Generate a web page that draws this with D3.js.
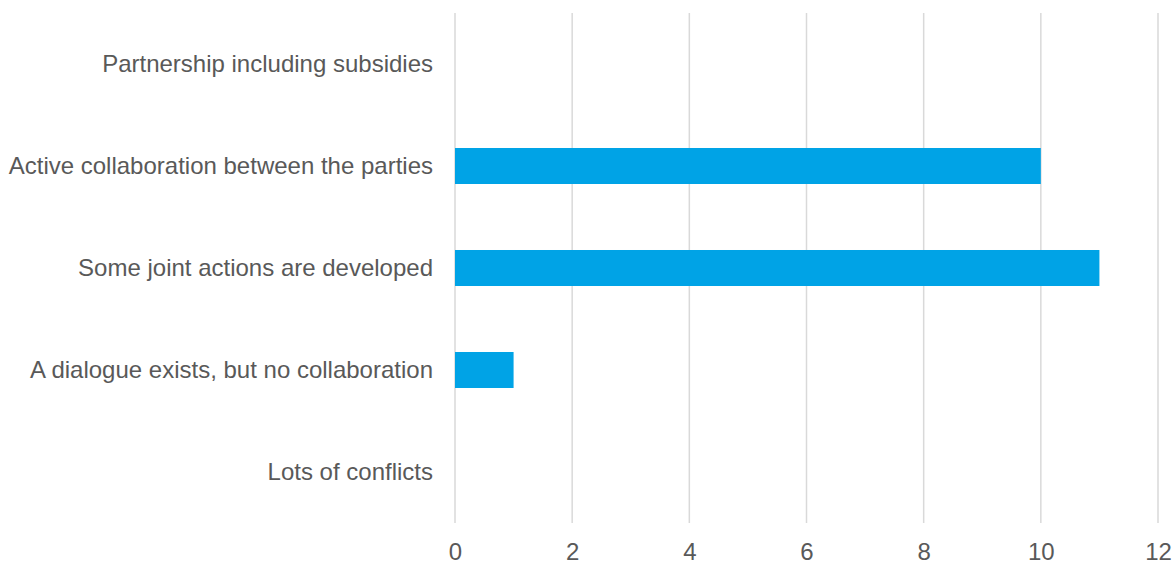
<!DOCTYPE html>
<html>
<head>
<meta charset="utf-8">
<script src="https://cdn.jsdelivr.net/npm/d3@7"></script>
<style>
  html, body { margin: 0; padding: 0; background: #ffffff; }
  svg { display: block; }
  text { font-family: "Liberation Sans", Arial, sans-serif; fill: #595959; }
</style>
</head>
<body>
<svg id="chart" width="1174" height="562"></svg>
<script>
// Response levels, top to bottom
const categories = [
  "Partnership including subsidies",
  "Active collaboration between the parties",
  "Some joint actions are developed",
  "A dialogue exists, but no collaboration",
  "Lots of conflicts"
];
const counts = [0, 10, 11, 1, 0];
const xTicks = [0, 2, 4, 6, 8, 10, 12];

const svg = d3.select("#chart");
const margin = { top: 13, right: 16, bottom: 39, left: 455 };
const width = 1174 - margin.left - margin.right;
const height = 562 - margin.top - margin.bottom;

const x = d3.scaleLinear().domain([0, 12]).range([0, width]);
const y = d3.scaleBand()
  .domain(categories)
  .range([0, height])
  .paddingInner(0.647)
  .paddingOuter(0.3235);

const g = svg.append("g").attr("transform", `translate(${margin.left},${margin.top})`);

// vertical gridlines
g.selectAll("line.grid")
  .data(xTicks)
  .join("line")
  .attr("class", "grid")
  .attr("x1", d => x(d)).attr("x2", d => x(d))
  .attr("y1", 0).attr("y2", height)
  .attr("stroke", "#d9d9d9")
  .attr("stroke-width", 1.5);

// bars
g.selectAll("rect.bar")
  .data(categories.map((c, i) => ({ c, v: counts[i] })))
  .join("rect")
  .attr("class", "bar")
  .attr("x", x(0))
  .attr("y", d => y(d.c))
  .attr("width", d => x(d.v) - x(0))
  .attr("height", y.bandwidth())
  .attr("fill", "#00a3e6");

// x axis labels
const xAxis = d3.axisBottom(x).tickValues(xTicks).tickSize(0).tickPadding(20);
const xg = g.append("g").attr("transform", `translate(0,${height})`).call(xAxis);
xg.select(".domain").remove();
xg.selectAll("text").style("font-size", "24px").style("fill", "#595959");

// category labels
const yAxis = d3.axisLeft(y).tickSize(0).tickPadding(22);
const yg = g.append("g").call(yAxis);
yg.select(".domain").remove();
yg.selectAll("text").style("font-size", "24px").style("fill", "#595959");
</script>
</body>
</html>
